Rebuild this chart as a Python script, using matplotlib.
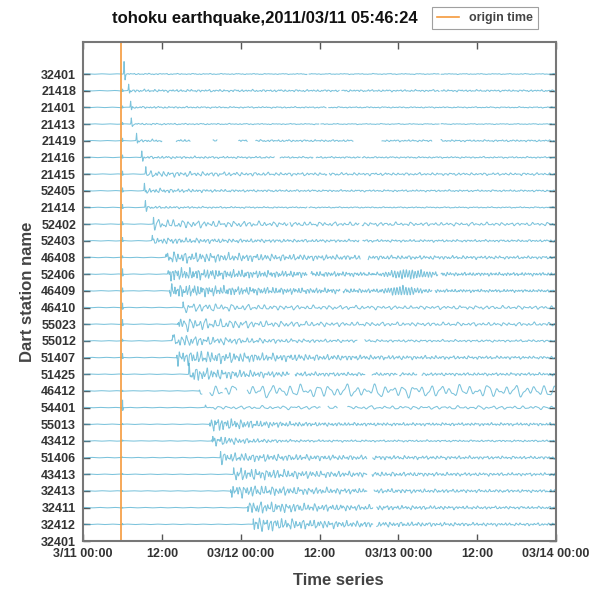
import numpy as np
import matplotlib
matplotlib.use("Agg")
import matplotlib.pyplot as plt

plt.rcParams["font.family"] = ["Liberation Sans", "DejaVu Sans"]

# ---- data ----
stations = ["32401", "21418", "21401", "21413", "21419", "21416", "21415", "52405",
            "21414", "52402", "52403", "46408", "52406", "46409", "46410", "55023",
            "55012", "51407", "51425", "46412", "54401", "55013", "43412", "51406",
            "43413", "32413", "32411", "32412"]
bottom_label = "32401"
# arrival time of the tsunami wave (hours after 3/11 00:00)
arrival = [6.2, 6.9, 7.2, 7.3, 8.1, 8.9, 9.5, 9.3, 9.45, 10.7, 10.5, 12.6, 12.9, 13.2,
           15.2, 14.5, 13.6, 14.3, 16.1, 17.7, 18.6, 19.3, 19.7, 20.9, 22.9, 22.5, 25.1, 25.9]
# first-pulse height (trace spacing units)
pulse = [0.75, 0.4, 0.4, 0.35, 0.45, 0.4, 0.35, 0.45, 0.4, 0.3, 0.35, 0.25, 0.2, 0.15,
         0.2, 0.25, 0.35, 0.3, 0.25, 0.1, 0.05, 0.3, 0.35, 0.3, 0.2, 0.3, 0.2, 0.2]
# strong-motion amplitude, its decay time (h) and the late amplitude
strong = [0.04, 0.08, 0.06, 0.05, 0.08, 0.08, 0.2, 0.16, 0.08, 0.3, 0.2, 0.35, 0.4, 0.4,
          0.3, 0.45, 0.4, 0.45, 0.45, 0.4, 0.1, 0.45, 0.35, 0.3, 0.4, 0.4, 0.4, 0.45]
decay = [10, 20, 15, 15, 15, 15, 12, 8, 10, 14, 14, 22, 16, 18,
         10, 10, 10, 18, 9, 60, 20, 7, 5, 16, 14, 14, 14, 14]
late = [0.02, 0.05, 0.03, 0.02, 0.05, 0.04, 0.07, 0.05, 0.03, 0.09, 0.06, 0.06, 0.08, 0.06,
        0.1, 0.1, 0.06, 0.06, 0.08, 0.33, 0.1, 0.08, 0.05, 0.07, 0.07, 0.07, 0.06, 0.06]
period_scale = [1, 1, 1, 1, 1, 1, 1.2, 1, 1, 1.4, 1, 1, 0.8, 0.8,
                1.5, 1.4, 1.2, 1, 1, 2.6, 2.0, 0.9, 1, 1, 1, 1, 1, 1]
# seismic spike at origin time
origin_spike = [0, 0.12, 0.1, 0.1, 0.15, 0.15, 0.2, 0.2, 0.2, 0.15, 0.2, 0.1, 0.35, 0.2,
                0.3, 0.3, 0.1, 0.25, 0.05, 0.05, 0.5, 0.05, 0.05, 0.03, 0.05, 0.03, 0.03, 0.06]
# extra bursts: station -> (centre h, width h, amplitude)
bursts = {"52406": (49.0, 4.0, 0.2), "46409": (48.5, 2.5, 0.2)}
# data gaps (h)
gaps = {
    "32401": [(34.1, 34.4), (54.2, 54.5)],
    "21418": [(39.0, 39.4), (54.2, 54.5)],
    "21401": [(37.0, 37.4)],
    "21413": [(35.9, 36.2), (54.2, 54.5)],
    "21419": [(12.0, 14.2), (16.3, 19.8), (20.4, 23.7), (25.0, 26.3), (41.1, 45.5), (53.1, 54.5)],
    "21416": [(29.1, 30.0), (35.0, 35.5), (42.2, 42.5)],
    "21415": [(37.1, 37.5)],
    "21414": [(34.1, 34.4)],
    "52402": [(31.2, 31.5), (42.0, 42.5)],
    "52403": [(42.0, 42.6)],
    "46408": [(42.2, 43.4)],
    "52406": [(34.1, 34.7), (54.0, 54.5)],
    "46409": [(39.1, 39.6), (53.1, 53.6)],
    "55012": [(41.7, 42.9)],
    "51425": [(31.4, 32.3), (42.9, 44.0), (47.8, 48.2), (50.8, 51.6)],
    "46412": [(18.1, 19.3), (21.2, 21.6), (23.4, 25.0)],
    "54401": [(36.1, 37.3), (38.7, 40.3)],
    "51406": [(43.2, 44.1)],
    "43413": [(43.2, 44.0)],
    "32413": [(43.2, 44.3)],
    "32411": [(44.1, 44.7)],
    "32412": [(44.1, 44.7)],
}
origin_time = 5 + 46 / 60 + 24 / 3600
xticks = [0, 12, 24, 36, 48, 60, 72]
xticklabels = ["3/11 00:00", "12:00", "03/12 00:00", "12:00", "03/13 00:00", "12:00", "03/14 00:00"]

# ---- figure ----
fig = plt.figure(figsize=(6.08, 5.89), dpi=100)
ax = fig.add_axes([83 / 608, 48 / 589, 473 / 608, 499 / 589])

t = np.arange(0, 72.0001, 1 / 60)
n = len(stations)
for i, name in enumerate(stations):
    base = n - i
    ps = period_scale[i]
    osc = (0.5 * np.sin(2 * np.pi * t / (0.55 * ps) + 1.7 * i)
           + 0.3 * np.sin(2 * np.pi * t / (0.83 * ps) + 0.9 * i)
           + 0.25 * np.sin(2 * np.pi * t / (0.31 * ps) + 0.4 * i)
           + 0.2 * np.sin(2 * np.pi * t / (1.37 * ps) + 2.3 * i))
    dt = t - arrival[i]
    env = np.where(dt >= 0, late[i] + (strong[i] - late[i]) * np.exp(-np.clip(dt, 0, None) / decay[i]), 0.0)
    env = env * np.clip(dt / 0.4 + 1, 0, 1)
    y = env * osc
    y += 0.012 * np.sin(2 * np.pi * t / 2.3 + i)
    y += pulse[i] * np.exp(-((dt - 0.05) / 0.06) ** 2) - 0.4 * pulse[i] * np.exp(-((dt - 0.2) / 0.08) ** 2)
    ds = t - (origin_time + 0.25)
    y += origin_spike[i] * np.exp(-(ds / 0.05) ** 2) * np.cos(2 * np.pi * ds / 0.12)
    if name in bursts:
        c, w, a = bursts[name]
        y += a * np.exp(-((t - c) / w) ** 2) * np.sin(2 * np.pi * t / 0.45 + i)
    y = base + y
    for g0, g1 in gaps.get(name, []):
        y[(t >= g0) & (t <= g1)] = np.nan
    ax.plot(t, y, color="#45aacd", lw=0.75, alpha=0.7)

ax.axvline(origin_time, color="#f59a3c", lw=1.2, label="origin time")

ax.set_xlim(0, 72)
ax.set_ylim(0, n + 1.92)
ax.set_yticks(list(range(n, 0, -1)) + [0])
ax.set_yticklabels(stations + [bottom_label])
ax.set_xticks(xticks)
ax.set_xticklabels(xticklabels)
ax.tick_params(axis="both", direction="in", length=5, width=1, color="#555555",
               labelsize=9, labelcolor="#333333", top=True, right=True)
ax.tick_params(axis="x", pad=5)
ax.tick_params(axis="y", pad=5)
for lab in ax.get_xticklabels() + ax.get_yticklabels():
    lab.set_fontweight("bold")
for sp in ax.spines.values():
    sp.set_color("#777777")
    sp.set_linewidth(1.5)

ax.set_xlabel("Time series", fontsize=12, fontweight="bold", color="#444444", labelpad=6)
ax.xaxis.set_label_coords((338 - 83) / 473, -0.065)
ax.set_ylabel("Dart station name", fontsize=12, fontweight="bold", color="#444444", labelpad=4)
fig.text(265 / 608, 1 - 18 / 589, "tohoku earthquake,2011/03/11 05:46:24", ha="center", va="center",
         fontsize=12, fontweight="bold", color="#111111")
leg = fig.legend(loc="center", bbox_to_anchor=(485 / 608, 1 - 18 / 589), frameon=True, fancybox=False,
                 fontsize=9, handlelength=1.8, borderpad=0.4)
leg.get_frame().set_edgecolor("#888888")
leg.get_frame().set_linewidth(0.8)
for txt in leg.get_texts():
    txt.set_fontweight("bold")
    txt.set_color("#444444")

fig.savefig("out.png", dpi=100)
